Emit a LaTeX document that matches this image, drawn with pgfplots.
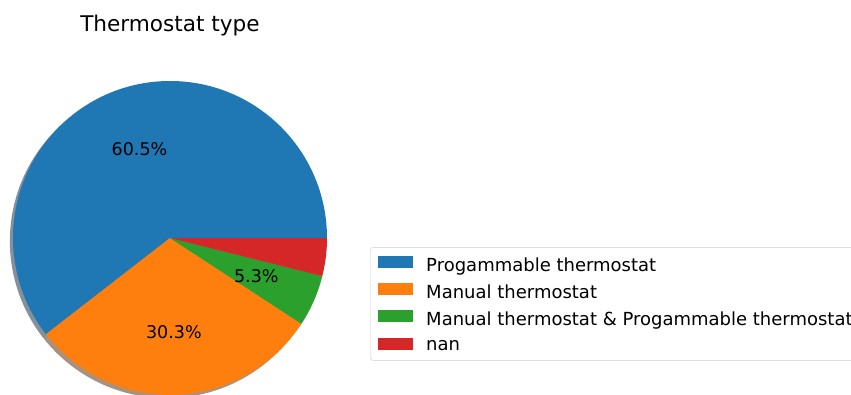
\documentclass[border=0pt]{standalone}
\usepackage{pgfplots}
\pgfplotsset{compat=1.18}
\usepackage{pgfplotstable}
\usepackage{fontspec}
\setmainfont{DejaVu Sans}
\definecolor{tabblue}{HTML}{1F77B4}
\definecolor{taborange}{HTML}{FF7F0E}
\definecolor{tabgreen}{HTML}{2CA02C}
\definecolor{tabred}{HTML}{D62728}
\definecolor{shblue}{HTML}{092436}
\definecolor{shorange}{HTML}{4D2604}
\definecolor{shgreen}{HTML}{0D300D}
\definecolor{shred}{HTML}{400C0C}
\pgfplotstableread{
label value
P 60.5
M 30.3
B 5.3
N 3.9
}\piedata
\begin{document}
\begin{tikzpicture}[x=1pt,y=1pt]
\path[use as bounding box] (0,0) rectangle (851,394);
\pgfplotstablegetelem{0}{value}\of\piedata \pgfmathsetmacro\va{\pgfplotsretval}
\pgfplotstablegetelem{1}{value}\of\piedata \pgfmathsetmacro\vb{\pgfplotsretval}
\pgfplotstablegetelem{2}{value}\of\piedata \pgfmathsetmacro\vc{\pgfplotsretval}
\pgfplotstablegetelem{3}{value}\of\piedata \pgfmathsetmacro\vd{\pgfplotsretval}
\pgfmathsetmacro\tot{\va+\vb+\vc+\vd}
\pgfmathsetmacro\fA{\va/\tot}
\pgfmathsetmacro\fB{\vb/\tot}
\pgfmathsetmacro\fC{\vc/\tot}
\pgfmathsetmacro\aA{360*\fA}
\pgfmathsetmacro\aB{\aA+360*\fB}
\pgfmathsetmacro\aC{\aB+360*\fC}
\pgfmathsetmacro\mA{\aA/2}
\pgfmathsetmacro\mB{(\aA+\aB)/2}
\pgfmathsetmacro\mC{(\aB+\aC)/2}
\pgfmathsetmacro\pA{100*\fA}
\pgfmathsetmacro\pB{100*\fB}
\pgfmathsetmacro\pC{100*\fC}
\node[anchor=base,font=\fontsize{21.6}{26}\selectfont] at (170,362) {Thermostat type};
\begin{axis}[
  x=157pt, y=157pt,
  xmin=-1, xmax=1, ymin=-1, ymax=1,
  hide axis, clip=false,
  at={(170pt,156pt)}, anchor=center,
  legend cell align=left,
  legend style={at={(1.137,0.471)}, anchor=north west,
    font=\fontsize{18}{21}\selectfont,
    draw=black!20, rounded corners=3pt, fill=white,
    inner xsep=8pt, inner ysep=6pt, row sep=5.5pt},
  legend image code/.code={\fill[#1,draw=none,sharp corners] (0pt,-3pt) rectangle (35pt,9pt);
     \path[draw=none,fill=none] (0pt,-4pt) -- (46pt,12pt);},
]
\addlegendimage{fill=tabblue}
\addlegendentry{Progammable thermostat}
\addlegendimage{fill=taborange}
\addlegendentry{Manual thermostat}
\addlegendimage{fill=tabgreen}
\addlegendentry{Manual thermostat \& Progammable thermostat}
\addlegendimage{fill=tabred}
\addlegendentry{nan}
% shadows
\begin{scope}[shift={(axis direction cs:-0.02,-0.02)}]
\fill[shblue,opacity=0.5] (0,0) -- ({cos(0)},{sin(0)}) arc[start angle=0,end angle=\aA,radius=157pt] -- cycle;
\fill[shorange,opacity=0.5] (0,0) -- ({cos(\aA)},{sin(\aA)}) arc[start angle=\aA,end angle=\aB,radius=157pt] -- cycle;
\fill[shgreen,opacity=0.5] (0,0) -- ({cos(\aB)},{sin(\aB)}) arc[start angle=\aB,end angle=\aC,radius=157pt] -- cycle;
\fill[shred,opacity=0.5] (0,0) -- ({cos(\aC)},{sin(\aC)}) arc[start angle=\aC,end angle=360,radius=157pt] -- cycle;
\end{scope}
% wedges
\fill[tabblue] (0,0) -- ({cos(0)},{sin(0)}) arc[start angle=0,end angle=\aA,radius=157pt] -- cycle;
\fill[taborange] (0,0) -- ({cos(\aA)},{sin(\aA)}) arc[start angle=\aA,end angle=\aB,radius=157pt] -- cycle;
\fill[tabgreen] (0,0) -- ({cos(\aB)},{sin(\aB)}) arc[start angle=\aB,end angle=\aC,radius=157pt] -- cycle;
\fill[tabred] (0,0) -- ({cos(\aC)},{sin(\aC)}) arc[start angle=\aC,end angle=360,radius=157pt] -- cycle;
% labels
\node[font=\fontsize{17.5}{21}\selectfont] at ({0.6*cos(\mA)},{0.6*sin(\mA)}) {\pgfmathprintnumber[fixed,precision=1,fixed zerofill,assume math mode=true]{\pA}\%};
\node[font=\fontsize{17.5}{21}\selectfont] at ({0.6*cos(\mB)},{0.6*sin(\mB)}) {\pgfmathprintnumber[fixed,precision=1,fixed zerofill,assume math mode=true]{\pB}\%};
\node[font=\fontsize{17.5}{21}\selectfont] at ({0.6*cos(\mC)},{0.6*sin(\mC)}) {\pgfmathprintnumber[fixed,precision=1,fixed zerofill,assume math mode=true]{\pC}\%};
\end{axis}
\end{tikzpicture}
\end{document}
